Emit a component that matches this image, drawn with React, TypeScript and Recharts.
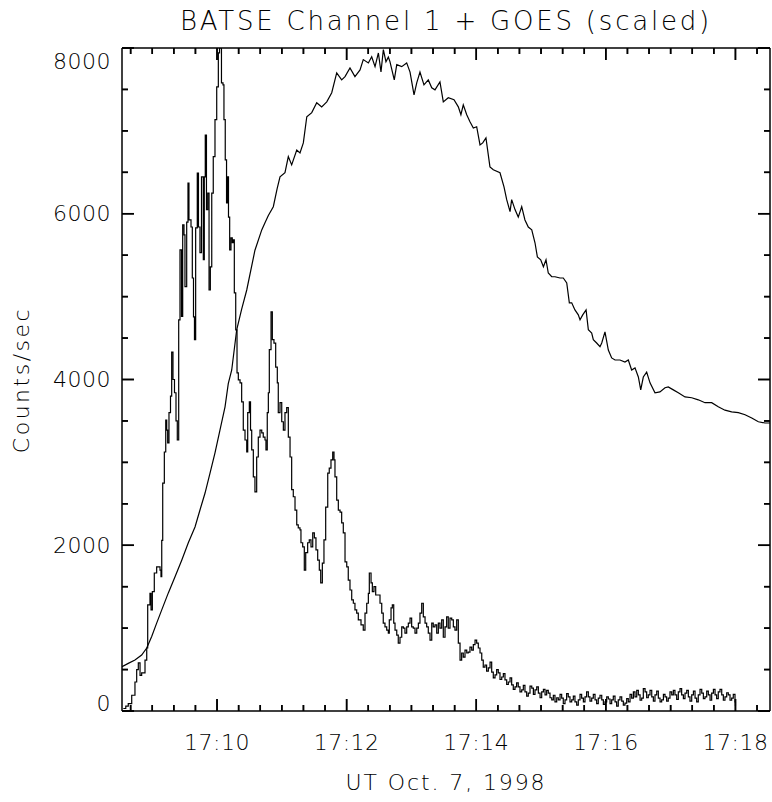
import React from "react";
import { LineChart, Line, XAxis, YAxis, ReferenceLine } from "recharts";

// seconds after 17:00:00 UT
const batseT = [
  513.2, 515.5, 517.8, 521.0, 524.0, 525.6, 527.1, 528.7, 530.2, 533.3, 534.9, 535.8, 537.9, 538.9, 540.1, 541.9,
  544.1, 547.2, 548.1, 548.8, 549.7, 551.2, 552.5, 553.4, 554.3, 555.5, 556.9, 558.0, 559.2, 560.6, 562.0, 563.2,
  564.5, 565.7, 567.1, 568.2, 569.4, 570.3, 571.9, 573.1, 574.0, 575.9, 577.1, 578.2, 579.1, 580.2, 581.7, 582.8,
  584.2, 585.6, 587.3, 588.2, 589.1, 590.2, 591.4, 592.6, 593.8, 595.1, 596.5, 598.1, 599.7, 601.2, 602.3, 603.2,
  604.1, 605.5, 606.4, 607.6, 608.8, 609.9, 610.6, 611.7, 612.9, 614.1, 615.1, 616.0, 617.3, 618.5, 619.7, 621.3,
  622.8, 624.3, 625.9, 627.5, 628.4, 629.9, 631.0, 632.1, 633.6, 635.1, 636.7, 638.2, 639.8, 641.4, 642.8, 644.4,
  645.3, 646.5, 647.5, 648.4, 650.0, 651.2, 652.7, 654.3, 655.8, 656.7, 658.3, 659.9, 661.4, 662.9, 664.5, 666.0,
  667.6, 669.1, 670.6, 672.2, 673.8, 675.2, 676.8, 677.7, 679.3, 680.8, 682.1, 683.9, 685.4, 687.0, 688.6, 690.1,
  691.6, 693.2, 694.7, 696.0, 697.5, 699.0, 700.6, 702.5, 703.9, 705.5, 707.1, 708.3, 709.2, 710.8, 712.3, 713.9,
  715.4, 716.9, 718.5, 720.1, 721.5, 723.1, 724.7, 726.2, 727.7, 729.3, 730.8, 733.3, 735.4, 737.0, 738.6, 740.1,
  741.0, 742.6, 743.8, 745.3, 746.9, 748.8, 750.9, 752.5, 753.9, 755.5, 757.1, 758.6, 759.5, 761.1, 762.3, 763.6,
  764.8, 766.4, 767.8, 769.4, 771.0, 772.5, 774.0, 775.6, 777.1, 778.7, 780.2, 781.7, 783.3, 784.9, 786.4, 787.9,
  789.5, 791.0, 792.6, 794.1, 795.6, 797.2, 798.8, 800.2, 801.8, 803.4, 804.9, 806.4, 808.0, 809.5, 811.1, 812.6,
  814.1, 815.7, 817.3, 818.8, 820.3, 821.9, 823.4, 825.0, 826.5, 828.0, 829.6, 831.2, 832.6, 834.2, 835.8, 837.3,
  838.9, 840.4, 841.9, 843.5, 845.1, 846.5,
  848.1, 849.6, 851.2, 852.8, 854.3, 855.8, 857.4, 858.9, 860.4, 862.0, 863.6, 865.1, 866.6, 868.2, 869.7, 871.3,
  872.8, 874.3, 875.9, 877.4, 878.9, 880.5, 882.1, 883.6, 885.1, 886.7, 888.2, 889.8, 891.4, 892.9, 894.4, 896.0,
  897.5, 899.1, 900.6, 902.2, 903.7, 905.2, 906.7, 908.3, 909.9, 911.4, 912.9, 914.5, 916.0, 917.6, 919.1, 920.6,
  922.2, 923.7, 925.2, 926.8, 928.4, 929.9, 931.4, 933.0, 934.5, 936.1, 937.6, 939.2, 940.7, 942.2, 943.8, 945.3,
  946.9, 948.4, 950.0, 951.5, 953.0, 954.6, 956.2, 957.7, 959.2, 960.8, 962.3, 963.9, 965.4, 966.9, 968.5, 970.0,
  971.5, 973.1, 974.7, 976.2, 977.7, 979.3, 980.8, 982.4, 983.9, 985.5, 987.0, 988.6, 990.1, 991.7, 993.2, 994.7,
  996.3, 997.8, 999.3, 1000.9, 1002.5, 1004.0, 1005.5, 1007.1, 1008.6, 1010.2, 1011.7, 1013.3, 1014.8, 1016.3, 1017.8, 1019.4,
  1021.0, 1022.5, 1024.0, 1025.6, 1027.1, 1028.7, 1030.2, 1031.8, 1033.3, 1034.9, 1036.4, 1037.9, 1039.5, 1041.1, 1042.6, 1044.1,
  1045.6, 1047.2, 1048.8, 1050.3, 1051.8, 1053.4, 1054.9, 1056.5, 1058.0, 1059.6, 1061.1, 1062.6, 1064.1, 1065.7, 1067.3, 1068.8,
  1070.3, 1071.9, 1073.4, 1075.0, 1076.5, 1078.0, 1079.6, 1080.0,
];

const batseV = [
  30, 60, 90, 190, 350, 500, 580, 430, 460, 615, 760, 1280, 1420, 1220, 1440, 1665,
  1740, 1700, 1620, 2060, 2750, 3125, 3510, 3390, 3235, 3600, 3800, 4330, 4000, 3840, 3500, 3270,
  4720, 5565, 4760, 5865, 5745, 5120, 5900, 6370, 5925, 5840, 5225, 4755, 4480, 5830, 6490, 5840,
  5530, 6445, 5445, 6445, 6950, 6050, 6250, 5080, 5360, 6250, 6690, 7135, 7530, 7940, 8000, 8000,
  7580, 7555, 7135, 6650, 6130, 6445, 5960, 5565, 5710, 5650, 5685, 5045, 4600, 4080, 3995, 3960,
  3730, 3390, 3270, 3125, 3600, 3730, 3390, 3150, 2825, 2645, 3065, 3305, 3390, 3355, 3305, 3270,
  3150, 3600, 3840, 4360, 4815, 4480, 4440, 4150, 3960, 3600, 3720, 3490, 3390, 3600, 3660, 3305,
  3065, 2670, 2585, 2425, 2245, 2210, 2185, 2030, 1980, 1700, 1910, 2030, 2065, 1980, 2150, 2090,
  1945, 1820, 1700, 1545, 1785, 2065, 2460, 2870, 2930, 3030, 3125, 3030, 2825, 2545, 2425, 2400,
  2270, 2150, 1800, 1740, 1580, 1460, 1340, 1300, 1220, 1180, 1100, 1040, 975, 1180, 1300, 1420,
  1665, 1545, 1440, 1500, 1400, 1400, 1300, 1180, 1060, 1015, 975, 940, 1100, 1245, 1280, 1060,
  975, 915, 820, 890, 1015, 1000, 940, 1015, 1060, 1120, 1015, 1000, 940, 1000, 1060, 1180,
  1300, 1135, 1060, 1015, 940, 855, 1060, 1015, 1040, 940, 1060, 1000, 1100, 890, 1015, 1135,
  1000, 1120, 1100, 1015, 975, 1100, 820, 615, 700, 650, 735, 700, 710, 770, 735, 800,
  855, 820, 760, 700, 615, 530,
  555, 480, 520, 590, 470, 400, 435, 500, 460, 380, 410, 450, 375, 320, 350, 400,
  315, 260, 290, 340, 290, 230, 255, 310, 230, 180, 215, 300, 275, 200, 255, 290,
  215, 160, 230, 260, 195, 250, 215, 160, 135, 190, 110, 160, 135, 200, 155, 90,
  135, 210, 170, 110, 135, 180, 110, 70, 135, 200, 155, 110, 170, 230, 170, 120,
  155, 200, 135, 90, 155, 190, 135, 80, 110, 170, 145, 90, 135, 180, 110, 60,
  135, 170, 120, 70, 95, 150, 110, 200, 155, 230, 170, 250, 195, 130, 155, 270,
  230, 160, 195, 250, 170, 120, 195, 240, 155, 110, 135, 200, 170, 120, 155, 230,
  195, 250, 195, 140, 230, 270, 195, 150, 215, 250, 170, 120, 195, 240, 155, 110,
  195, 260, 215, 150, 170, 240, 195, 130, 215, 260, 195, 150, 230, 260, 195, 130,
  170, 220, 195, 130, 155, 200, 110, 60,
];

const goesT = [
  512.0, 517.8, 524.0, 530.2, 534.9, 539.5, 544.1, 548.8, 554.9, 561.1, 567.3, 573.4, 579.6, 584.2, 588.9, 593.5,
  598.1, 602.7, 607.4, 610.4, 613.6, 618.2, 622.8, 627.5, 635.1, 641.4, 644.4, 647.5, 652.1, 655.6, 658.3, 662.9,
  666.0, 669.1, 673.8, 676.8, 679.9, 683.1, 687.7, 692.3, 696.9, 701.6, 706.2, 710.8, 715.4, 718.5, 723.1, 727.7,
  732.4, 735.4, 740.1, 743.2, 746.3, 749.4, 751.8, 754.0, 756.4, 758.6, 760.1, 764.1, 766.4, 771.0, 775.6, 778.7,
  782.4, 784.9, 787.9, 791.6, 795.6, 798.8, 801.8, 806.4, 809.5, 814.1, 819.4, 823.4, 825.8, 828.0, 831.2, 834.2,
  837.3, 840.4, 843.5, 846.0, 849.0, 852.7, 855.8, 862.0, 865.7, 868.2, 871.3, 872.8, 875.9, 878.9, 882.1, 885.1,
  888.2, 891.4, 894.4, 896.6, 899.7, 902.2, 904.6, 906.7, 909.9, 912.9, 917.6, 920.6, 923.8, 926.2, 928.4, 931.4,
  934.5, 936.1, 938.6, 941.7, 943.8, 946.9, 948.4, 951.5, 954.6, 956.2, 959.2, 962.3, 965.4, 968.5, 973.1, 977.7,
  980.8, 983.9, 987.0, 990.1, 992.3, 994.7, 997.8, 1000.9, 1005.5, 1010.1, 1014.8, 1017.8, 1022.5, 1027.1, 1033.3, 1039.5,
  1045.6, 1051.8, 1058.0, 1064.1, 1070.3, 1076.5, 1082.7, 1088.9, 1095.1, 1101.2, 1107.4, 1112.0,
];

const goesV = [
  535, 575, 615, 675, 760, 900, 1060, 1220, 1425, 1620, 1820, 2030, 2220, 2425, 2630, 2870,
  3115, 3390, 3670, 3950, 4115, 4600, 4850, 5080, 5560, 5805, 5890, 5980, 6085, 6300, 6445, 6495,
  6690, 6590, 6770, 6735, 6855, 7170, 7220, 7340, 7290, 7350, 7460, 7700, 7615, 7655, 7760, 7655,
  7735, 7860, 7820, 7895, 7775, 7940, 7710, 7980, 7835, 7890, 7835, 7615, 7800, 7775, 7820, 7710,
  7435, 7580, 7710, 7555, 7615, 7520, 7495, 7590, 7350, 7400, 7375, 7290, 7195, 7315, 7195, 7110,
  7035, 7050, 6830, 6855, 6915, 6565, 6530, 6495, 6325, 6170, 6025, 6170, 6050, 5960, 6085, 5925,
  5840, 5805, 5650, 5480, 5445, 5360, 5445, 5285, 5240, 5240, 5225, 5225, 5165, 4925, 4925, 4840,
  4780, 4720, 4780, 4840, 4600, 4560, 4480, 4440, 4395, 4440, 4575, 4355, 4260, 4235, 4235, 4210,
  4235, 4115, 4140, 4030, 3875, 4030, 4090, 3960, 3840, 3850, 3900, 3910, 3875, 3840, 3790, 3780,
  3755, 3720, 3720, 3670, 3630, 3610, 3600, 3575, 3535, 3490, 3475, 3475,
];

const xMajor = [600, 720, 840, 960, 1080];
const xLabels = ["17:10", "17:12", "17:14", "17:16", "17:18"];
const yMajor = [0, 2000, 4000, 6000, 8000];
const yLabels = ["0", "2000", "4000", "6000", "8000"];

const X0 = 512;
const X1 = 1112;
const Y0 = 0;
const Y1 = 8000;
const xTicks = Array.from({ length: 30 }, (_, i) => 520 + i * 20);
const yTicks = Array.from({ length: 17 }, (_, i) => i * 500);

// inward tick lengths in axis units (about 12 px major, 6 px minor)
const yTickLen = (t: number) => (t % 120 === 0 ? 145 : 72);
const xTickLen = (v: number) => (v % 2000 === 0 ? 11 : 5.5);

const batseData = batseT.map((t, i) => ({ t, v: batseV[i] }));
const goesData = goesT.map((t, i) => ({ t, v: goesV[i] }));

const FONT = "'DejaVu Sans', sans-serif";
const INK = "#000";

function BottomTick(props: any) {
  const { x, y, payload } = props;
  const i = xMajor.indexOf(payload.value);
  const len = i >= 0 ? 12 : 6;
  return (
    <g>
      <rect x={x - 0.8} y={y - len} width={1.6} height={len} fill={INK} />
      {i >= 0 && (
        <text x={x} y={y + 31} textAnchor="middle" dominantBaseline="central" fontFamily={FONT} fontSize={22} fontWeight={200} letterSpacing={0.5} fill={INK}>
          {xLabels[i]}
        </text>
      )}
    </g>
  );
}

function TopTick(props: any) {
  const { x, y, payload } = props;
  const len = xMajor.includes(payload.value) ? 12 : 6;
  return <rect x={x - 0.8} y={y} width={1.6} height={len} fill={INK} />;
}

function LeftTick(props: any) {
  const { x, y, payload } = props;
  const i = yMajor.indexOf(payload.value);
  const len = i >= 0 ? 12 : 6;
  const shift = payload.value === 8000 ? 13 : payload.value === 0 ? -8 : 0;
  return (
    <g>
      <rect x={x} y={y - 0.8} width={len} height={1.6} fill={INK} />
      {i >= 0 && (
        <text x={x - 11} y={y + shift} textAnchor="end" dominantBaseline="central" fontFamily={FONT} fontSize={22} fontWeight={200} letterSpacing={0.5} fill={INK}>
          {yLabels[i]}
        </text>
      )}
    </g>
  );
}

function RightTick(props: any) {
  const { x, y, payload } = props;
  const len = yMajor.includes(payload.value) ? 12 : 6;
  return <rect x={x - len} y={y - 0.8} width={len} height={1.6} fill={INK} />;
}

const textStyle: React.CSSProperties = {
  position: "absolute",
  fontFamily: FONT,
  fontWeight: 200,
  color: INK,
  whiteSpace: "nowrap",
  lineHeight: 1,
  textAlign: "center",
};

const axisLine = { stroke: INK, strokeWidth: 1.5 };

export default function App() {
  return (
    <div style={{ position: "absolute", left: 0, top: 0, width: 772, height: 802, overflow: "hidden", background: "#fff" }}>
      <LineChart width={772} height={802} margin={{ top: 38, right: 0, bottom: 41, left: 62 }} style={{ position: "absolute", left: 0, top: 0 }}>
        <XAxis xAxisId="b" dataKey="t" type="number" domain={[X0, X1]} allowDataOverflow ticks={xTicks} interval={0} height={50} tickSize={0} tickMargin={0} tickLine={false} axisLine={axisLine} tick={<BottomTick />} />
        <XAxis xAxisId="t" orientation="top" dataKey="t" type="number" domain={[X0, X1]} allowDataOverflow ticks={xTicks} interval={0} height={10} tickSize={0} tickMargin={0} tickLine={false} axisLine={axisLine} tick={<TopTick />} />
        <YAxis yAxisId="l" type="number" domain={[Y0, Y1]} allowDataOverflow ticks={yTicks} interval={0} width={60} tickSize={0} tickMargin={0} tickLine={false} axisLine={axisLine} tick={<LeftTick />} />
        <YAxis yAxisId="r" orientation="right" type="number" domain={[Y0, Y1]} allowDataOverflow ticks={yTicks} interval={0} width={2} tickSize={0} tickMargin={0} tickLine={false} axisLine={axisLine} tick={<RightTick />} />
        {xTicks.map((t) => (
          <ReferenceLine key={`xb${t}`} xAxisId="b" yAxisId="l" ifOverflow="visible" segment={[{ x: t, y: Y0 }, { x: t, y: Y0 + yTickLen(t) }]} stroke={INK} strokeWidth={1.5} />
        ))}
        {xTicks.map((t) => (
          <ReferenceLine key={`xt${t}`} xAxisId="b" yAxisId="l" ifOverflow="visible" segment={[{ x: t, y: Y1 }, { x: t, y: Y1 - yTickLen(t) }]} stroke={INK} strokeWidth={1.5} />
        ))}
        {yTicks.map((v) => (
          <ReferenceLine key={`yl${v}`} xAxisId="b" yAxisId="l" ifOverflow="visible" segment={[{ x: X0, y: v }, { x: X0 + xTickLen(v), y: v }]} stroke={INK} strokeWidth={1.5} />
        ))}
        {yTicks.map((v) => (
          <ReferenceLine key={`yr${v}`} xAxisId="b" yAxisId="l" ifOverflow="visible" segment={[{ x: X1, y: v }, { x: X1 - xTickLen(v), y: v }]} stroke={INK} strokeWidth={1.5} />
        ))}
        <Line xAxisId="b" yAxisId="l" data={goesData} dataKey="v" type="linear" stroke={INK} strokeWidth={1.2} dot={false} isAnimationActive={false} />
        <Line xAxisId="b" yAxisId="l" data={batseData} dataKey="v" type="stepAfter" stroke={INK} strokeWidth={1.2} dot={false} isAnimationActive={false} />
        <Line xAxisId="t" yAxisId="r" data={goesData} dataKey="v" stroke="none" dot={false} isAnimationActive={false} />
      </LineChart>
      <div style={{ ...textStyle, left: 122, width: 648, top: 8, fontSize: 26, letterSpacing: 2.8 }}>
        BATSE Channel 1 + GOES (scaled)
      </div>
      <div style={{ ...textStyle, left: 122, width: 648, top: 772, fontSize: 22, letterSpacing: 1.9 }}>
        UT Oct. 7, 1998
      </div>
      <div
        style={{
          ...textStyle,
          left: 22,
          top: 380,
          fontSize: 22,
          letterSpacing: 2.5,
          transform: "translate(-50%, -50%) rotate(-90deg)",
        }}
      >
        Counts/sec
      </div>
    </div>
  );
}
